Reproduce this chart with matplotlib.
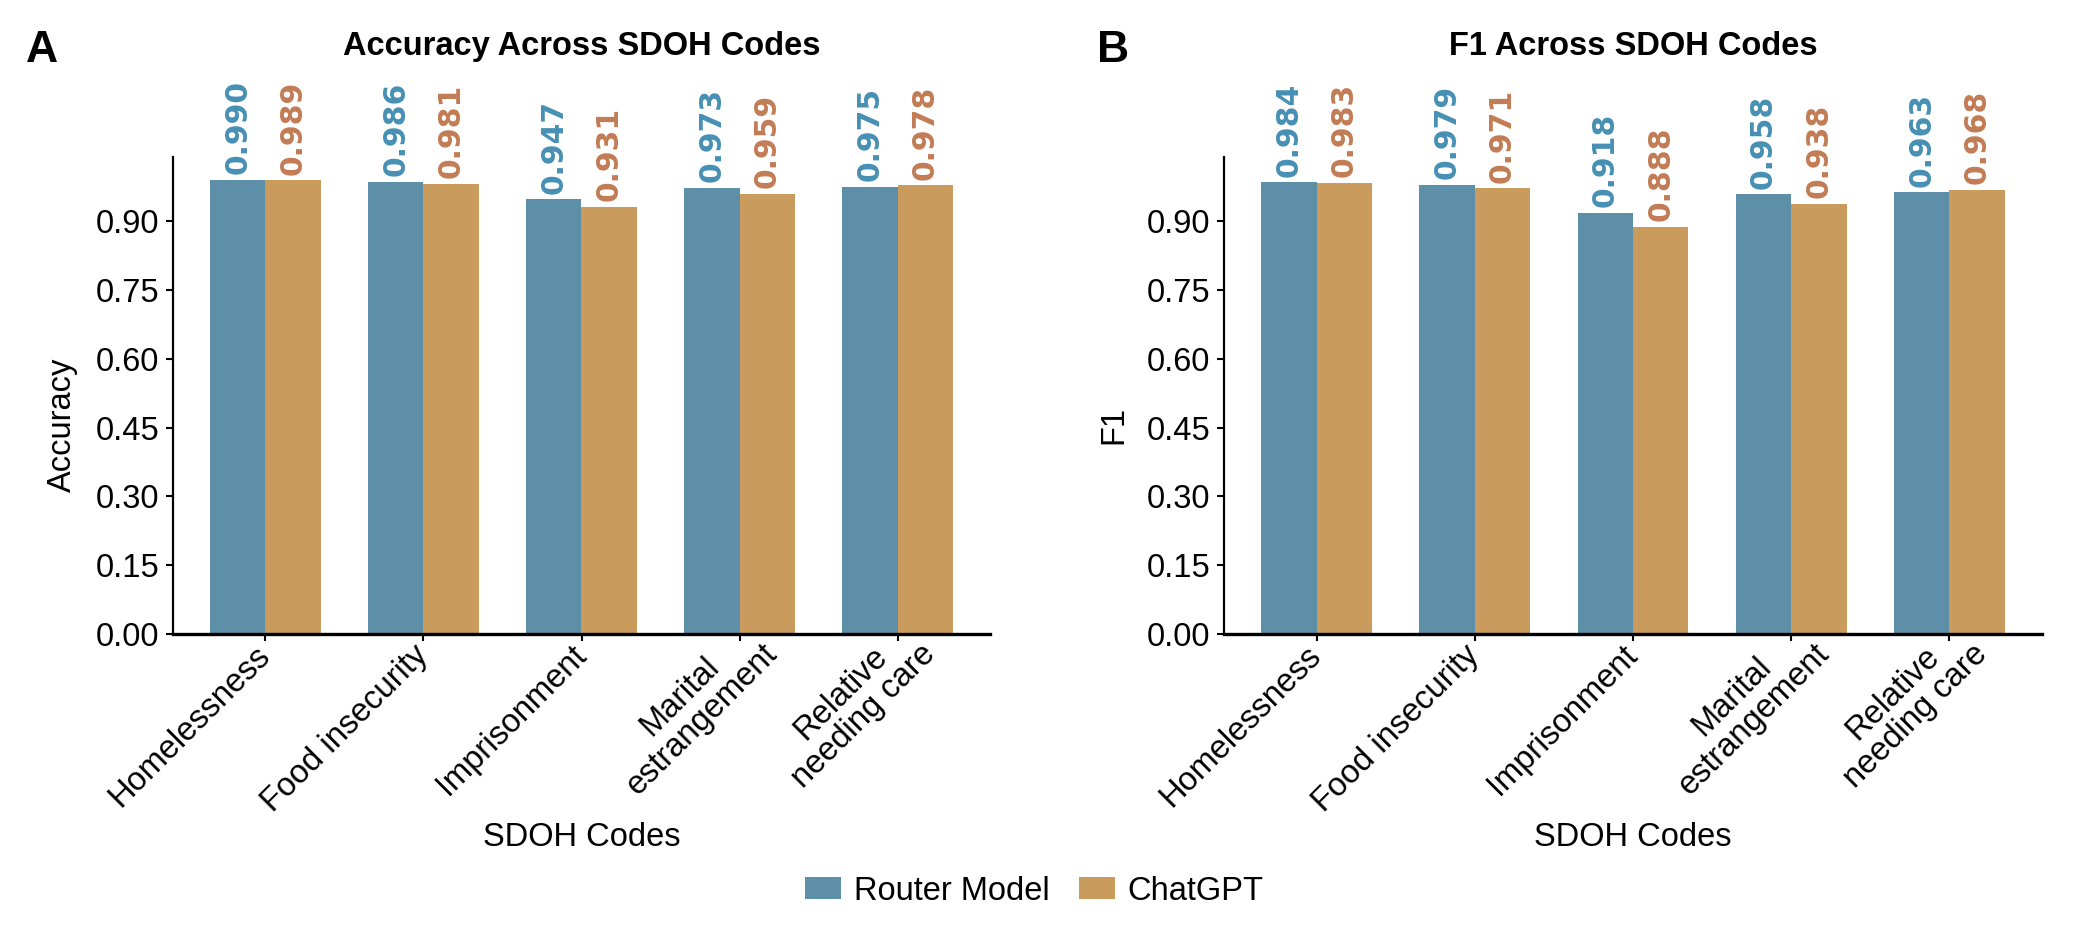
import matplotlib
matplotlib.use("Agg")
import matplotlib.pyplot as plt
from matplotlib.patches import Patch
from matplotlib.transforms import ScaledTranslation
import numpy as np

# ---- data ----
categories = ["Homelessness", "Food insecurity", "Imprisonment",
              "Marital\nestrangement", "Relative\nneeding care"]
series_names = ["Router Model", "ChatGPT"]
acc_router = [0.990, 0.986, 0.947, 0.973, 0.975]
acc_chatgpt = [0.989, 0.981, 0.931, 0.959, 0.978]
f1_router = [0.984, 0.979, 0.918, 0.958, 0.963]
f1_chatgpt = [0.983, 0.971, 0.888, 0.938, 0.968]
yticks = [0.00, 0.15, 0.30, 0.45, 0.60, 0.75, 0.90]

# ---- style ----
BAR_BLUE = "#5d8fa8"
BAR_ORANGE = "#c99b5c"
LBL_BLUE = "#4690b4"
LBL_ORANGE = "#c27c55"
FONT = ["Liberation Sans", "DejaVu Sans"]
FS = 23.5

plt.rcParams["font.family"] = FONT

fig = plt.figure(figsize=(20.83, 9.52), dpi=100)
W, H = 2083, 952


def axes_rect(x0, x1, ytop, ybot):
    return [x0 / W, 1 - ybot / H, (x1 - x0) / W, (ybot - ytop) / H]


ax1 = fig.add_axes(axes_rect(173, 990, 157, 634))
ax2 = fig.add_axes(axes_rect(1224, 2042, 157, 634))


def draw(ax, r_vals, c_vals, title, ylabel):
    x = np.arange(len(categories))
    w = 0.35
    b1 = ax.bar(x - w / 2, r_vals, w, color=BAR_BLUE, label=series_names[0])
    b2 = ax.bar(x + w / 2, c_vals, w, color=BAR_ORANGE, label=series_names[1])
    for bars, vals, col in ((b1, r_vals, LBL_BLUE), (b2, c_vals, LBL_ORANGE)):
        ax.bar_label(bars, labels=[f"{v:.3f}" for v in vals], padding=4,
                     rotation=90, color=col, fontsize=21.5, fontweight="bold",
                     family="DejaVu Sans")
    ax.set_xticks(x)
    ax.set_yticks(yticks)
    ax.set_yticklabels([f"{t:.2f}" for t in yticks], fontsize=FS)
    ax.set_xlim(-0.585, len(categories) - 1 + 0.585)
    ax.set_ylim(0, 1.0395)
    for s in ("top", "right"):
        ax.spines[s].set_visible(False)
    ax.spines["bottom"].set_linewidth(2.4)
    ax.spines["left"].set_linewidth(1.6)
    ax.tick_params(axis="y", direction="out", length=5, width=1.5,
                   color="black", pad=5)
    ax.tick_params(axis="x", direction="out", length=5, width=1.5,
                   color="black", pad=7)
    ax.set_xticklabels(categories, rotation=45, ha="right", va="center",
                       rotation_mode="anchor", fontsize=FS)
    for lab in ax.get_xticklabels():
        lab.set_multialignment("center")
        lab.set_linespacing(1.05)
        if "\n" in lab.get_text():
            dx, dy = 22, -13
            lab.set_transform(lab.get_transform() +
                              ScaledTranslation(dx / 100, -dy / 100,
                                                fig.dpi_scale_trans))
    ax.set_xlabel("SDOH Codes", fontsize=FS)
    ax.xaxis.set_label_coords(0.5, -0.394)
    ax.set_ylabel(ylabel, fontsize=FS)
    ax.yaxis.set_label_coords(-0.116, 0.438)
    ax.set_title(title, fontsize=FS, fontweight="bold", y=1.214, pad=0)


draw(ax1, acc_router, acc_chatgpt, "Accuracy Across SDOH Codes", "Accuracy")
draw(ax2, f1_router, f1_chatgpt, "F1 Across SDOH Codes", "F1")

fig.text(26 / W, 1 - 62 / H, "A", fontsize=32, fontweight="bold",
         ha="left", va="baseline")
fig.text(1097 / W, 1 - 62 / H, "B", fontsize=32, fontweight="bold",
         ha="left", va="baseline")

handles = [Patch(facecolor=BAR_BLUE, label=series_names[0]),
           Patch(facecolor=BAR_ORANGE, label=series_names[1])]
fig.legend(handles=handles, loc="center", bbox_to_anchor=(0.4965, 1 - 891 / H),
           ncol=2, frameon=False, fontsize=FS, handlelength=1.125,
           handleheight=0.69, handletextpad=0.375, columnspacing=0.9)

fig.savefig("out.png", dpi=100)
